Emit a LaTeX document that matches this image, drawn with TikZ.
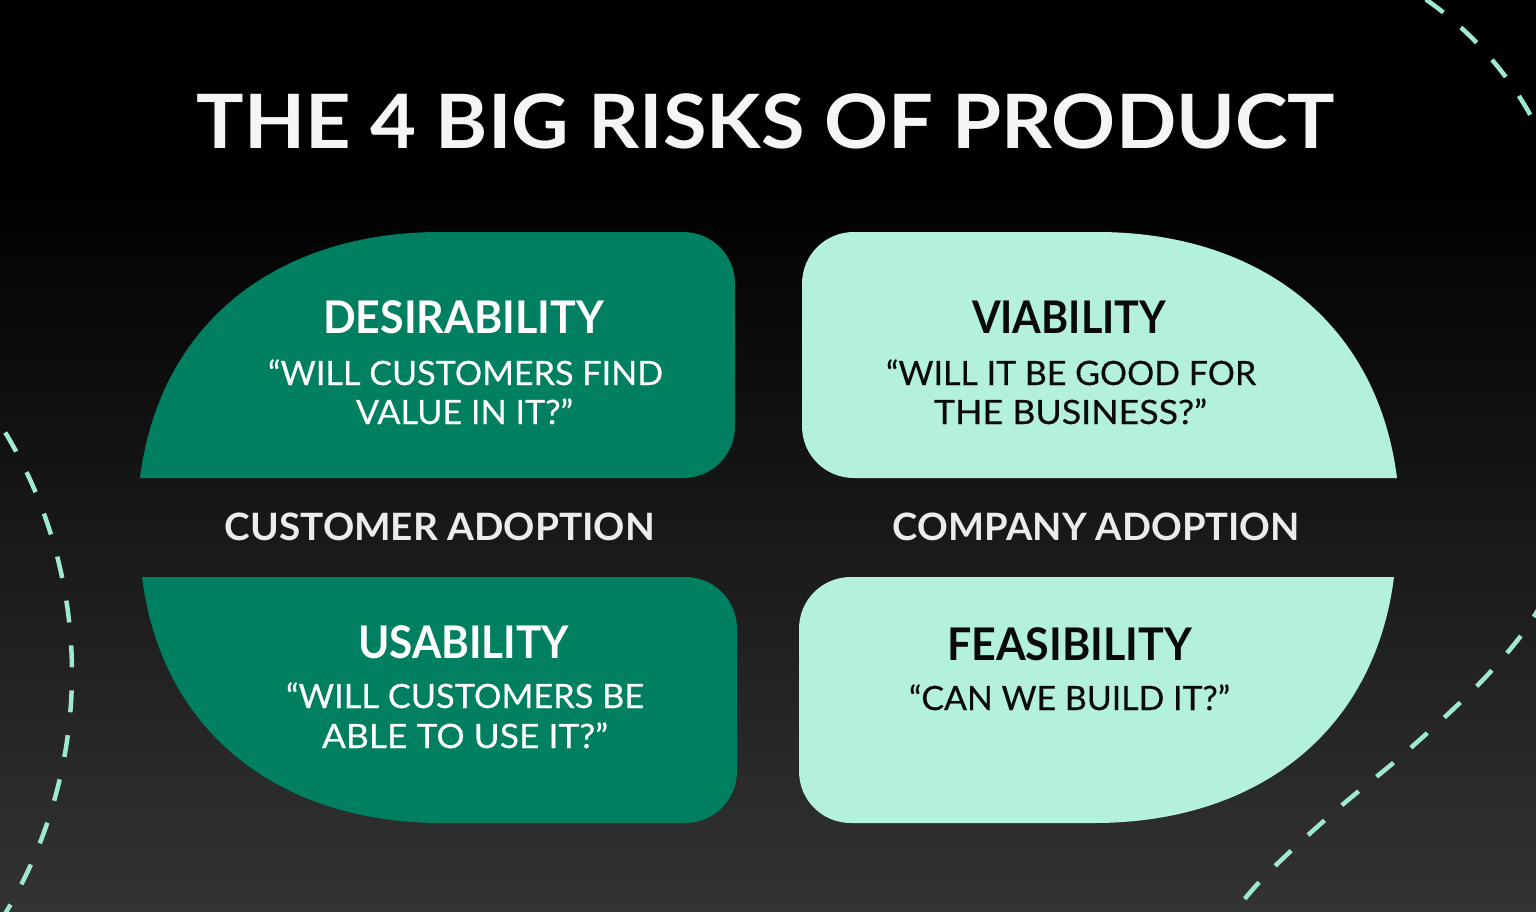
\documentclass[tikz,border=0pt]{standalone}
\usepackage{fontspec}
\usepackage{graphicx}
\setmainfont{Lato}
\newfontfamily\qfont[FakeBold=0.4]{Lato}
\definecolor{dgreen}{HTML}{008060}
\definecolor{mint}{HTML}{B3F0DE}
\definecolor{dashc}{HTML}{9FE8D2}
\definecolor{bgbot}{HTML}{333333}
\definecolor{titlec}{HTML}{F5F5F5}
\definecolor{labc}{HTML}{ECECEC}
\definecolor{ink}{HTML}{0A0A0A}
\newcommand{\fitto}[2]{\resizebox{#1}{\height}{#2}}
\begin{document}
\begin{tikzpicture}[x=1pt,y=-1pt,
  bigtitle/.style={font=\bfseries\fontsize{75}{75}\selectfont, text=titlec, anchor=base, inner sep=0pt},
  head/.style={font=\bfseries\fontsize{45}{45}\selectfont, anchor=base, inner sep=0pt},
  quest/.style={font=\qfont\fontsize{33.5}{33.5}\selectfont, anchor=base, inner sep=0pt},
  midlab/.style={font=\bfseries\fontsize{37.7}{37.7}\selectfont, text=labc, anchor=base, inner sep=0pt},
  dashline/.style={draw=dashc, line width=4.5pt, dash pattern=on 22pt off 23pt},
  darkcard/.style={fill=dgreen},
  lightcard/.style={fill=mint}]
\useasboundingbox (0,0) rectangle (1536,912);
\clip (0,0) rectangle (1536,912);
% background
\fill[black] (0,0) rectangle (1536,912);
\shade[top color=black, bottom color=bgbot] (0,180) rectangle (1536,912);
% decorative dashed arcs
\draw[dashline] plot[domain=-31:31, samples=80] ({-395+467*cos(\x)},{673+467*sin(\x)});
\draw[dashline] plot[domain=-55:-24, samples=60] ({1225+350*cos(\x)},{286+350*sin(\x)});
\draw[dashline] plot[smooth, tension=0.6] coordinates {(1545,598) (1520,637) (1475,688) (1406,752) (1334,812) (1266,875) (1226,922)};
% cards
\fill[darkcard] (140,478) .. controls (160,320) and (280,232) .. (440,232) -- (683,232)
  .. controls (712,232) and (735,255) .. (735,284) -- (735,426)
  .. controls (735,455) and (712,478) .. (683,478) -- cycle;
\fill[lightcard] (1397,478) .. controls (1377,320) and (1257,232) .. (1097,232) -- (854,232)
  .. controls (825,232) and (802,255) .. (802,284) -- (802,426)
  .. controls (802,455) and (825,478) .. (854,478) -- cycle;
\fill[darkcard] (142,577) .. controls (162,735) and (282,823) .. (442,823) -- (685,823)
  .. controls (714,823) and (737,800) .. (737,771) -- (737,629)
  .. controls (737,600) and (714,577) .. (685,577) -- cycle;
\fill[lightcard] (1394,577) .. controls (1374,735) and (1254,823) .. (1094,823) -- (851,823)
  .. controls (822,823) and (799,800) .. (799,771) -- (799,629)
  .. controls (799,600) and (822,577) .. (851,577) -- cycle;
% title
\node[bigtitle] (title) at (766,149) {\fitto{1138pt}{THE 4 BIG RISKS OF PRODUCT}};
% desirability
\node[head, text=white] (desH) at (463.5,333) {\fitto{281pt}{DESIRABILITY}};
\node[quest, text=white] (desQ1) at (465.5,385) {\fitto{395pt}{“WILL CUSTOMERS FIND}};
\node[quest, text=white] (desQ2) at (464.5,424) {\fitto{217pt}{VALUE IN IT?”}};
% viability
\node[head, text=ink] (viaH) at (1069,333) {\fitto{194pt}{VIABILITY}};
\node[quest, text=ink] (viaQ1) at (1071,385) {\fitto{370pt}{“WILL IT BE GOOD FOR}};
\node[quest, text=ink] (viaQ2) at (1070.5,424) {\fitto{273pt}{THE BUSINESS?”}};
% middle labels
\node[midlab] (custAd) at (440,540) {\fitto{430pt}{CUSTOMER ADOPTION}};
\node[midlab] (compAd) at (1096.5,540) {\fitto{407pt}{COMPANY ADOPTION}};
% usability
\node[head, text=white] (usaH) at (463.5,658) {\fitto{211pt}{USABILITY}};
\node[quest, text=white] (usaQ1) at (465,708) {\fitto{358pt}{“WILL CUSTOMERS BE}};
\node[quest, text=white] (usaQ2) at (465,748) {\fitto{286pt}{ABLE TO USE IT?”}};
% feasibility
\node[head, text=ink] (feaH) at (1069.5,660) {\fitto{245pt}{FEASIBILITY}};
\node[quest, text=ink] (feaQ1) at (1069.5,710) {\fitto{321pt}{“CAN WE BUILD IT?”}};
\end{tikzpicture}
\end{document}
